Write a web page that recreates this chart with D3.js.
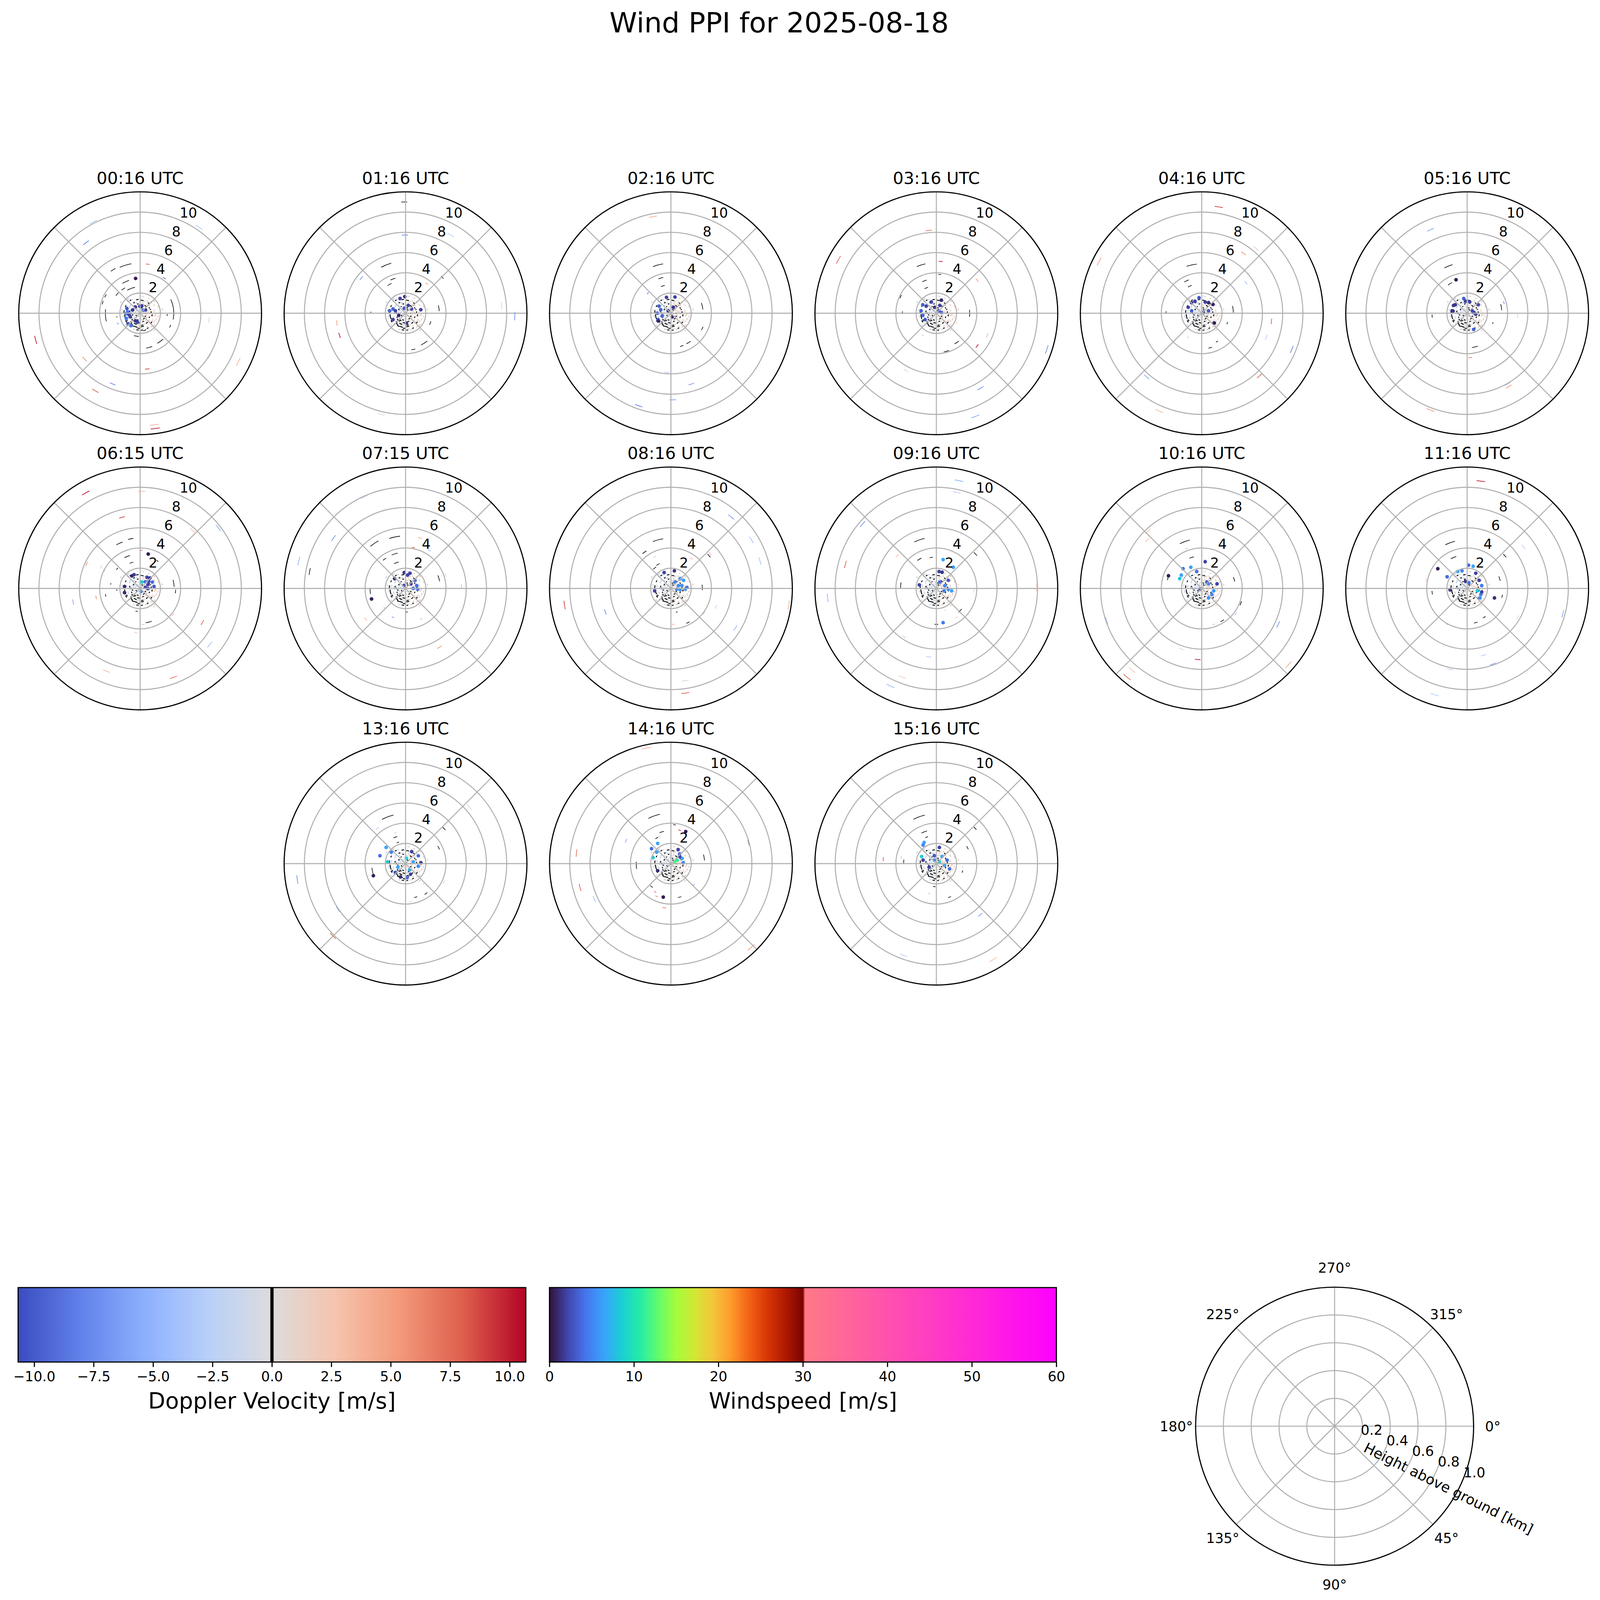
<!DOCTYPE html>
<html><head><meta charset="utf-8">
<script src="https://cdn.jsdelivr.net/npm/d3@7"></script>
<style>html,body{margin:0;padding:0;background:#fff;overflow:hidden;width:100%;height:100%}svg{display:block;width:100vw;height:100vh}text{font-family:"DejaVu Sans",sans-serif;fill:#000}</style>
</head><body><svg id="c" viewBox="0 0 7878 7907" preserveAspectRatio="xMidYMid meet"></svg>
<script>
// ---------------- DATA ----------------
const suptitle = "Wind PPI for 2025-08-18";
const panelTimes = ["00:16","01:16","02:16","03:16","04:16","05:16","06:15","07:15","08:16","09:16","10:16","11:16","13:16","14:16","15:16"];
const rTicks = [2,4,6,8,10];
const velTicks = [-10,-7.5,-5,-2.5,0,2.5,5,7.5,10];
const windTicks = [0,10,20,30,40,50,60];
const legendRTicks = [0.2,0.4,0.6,0.8,1.0];
const legendThetaTicks = [0,45,90,135,180,225,270,315];
const velLabel = "Doppler Velocity [m/s]";
const windLabel = "Windspeed [m/s]";
const legendRLabel = "Height above ground [km]";
const velMax = 10.68;
const coolwarmStops = ["#3b4cc0","#6282ea","#8db0fe","#b8d0f9","#dddcdc","#f5c4ad","#f49a7b","#de604d","#b40426"];
const turboStops = ["#30123b","#4145ab","#4675ed","#39a2fc","#1bcfd4","#24eca6","#61fc6c","#a4fc3b","#d1e834","#f3c63a","#fe9b2d","#f36315","#d93806","#b11901","#7a0402"];
const highWindStops = ["#ff7a85","#ff00ff"];

// near-range returns seen in every scan: [range km, azimuth deg, width deg, velocity]
const nearLight = [[0.4,300,20,-1],[0.7,280,15,-1.5],[0.9,250,12,-1],[1.2,300,10,-1.5],[1.0,320,12,-1],[1.3,330,10,-1.2],[0.6,220,20,-1],[1.1,230,10,-1.3],[1.5,240,8,-1],[1.4,210,10,-0.8],[0.8,200,15,-0.8],[1.7,200,8,-0.6],[1.6,300,6,-1.2],[1.8,280,6,-1],[1.2,190,10,-0.5],[2.0,350,5,-1],
[0.5,60,20,1],[0.8,40,15,1.2],[1.0,70,12,1],[1.2,50,10,1.5],[1.4,80,10,1],[1.6,60,8,1.2],[0.7,120,15,0.8],[1.0,110,12,1],[1.3,130,10,1.2],[1.6,120,8,1],[1.8,100,6,1.5],[0.9,150,12,0.6],[1.2,160,10,0.8],[1.5,150,8,1],[1.7,30,6,1],[1.9,70,5,1.2],[0.6,10,20,0.3],[1.1,15,10,0.5],[1.45,100,6,1.8],[2.1,90,4,1.5],[1.75,140,6,1.4],[0.3,100,30,0.5],[0.3,250,30,-0.5],
[0.35,20,40,0.5],[0.35,160,40,0.8],[0.35,210,40,-0.5],[0.35,330,30,-1],
[0.5,0,25,0.3],[0.5,130,30,1],[0.5,180,25,0.2],[0.5,280,30,-1.2],[0.5,330,20,-0.8],
[0.65,70,25,1.2],[0.65,100,20,1],[0.65,170,25,0.5],[0.65,250,25,-1],[0.65,300,20,-1.3],[0.65,350,20,-0.3],
[0.8,10,20,0.4],[0.8,80,20,1.3],[0.8,130,18,1],[0.8,230,20,-0.8],[0.8,300,18,-1.5],
[0.95,20,15,0.6],[0.95,90,15,1.2],[0.95,170,15,0.3],[0.95,280,15,-1.2],[0.95,215,15,-0.5],
[1.1,40,14,0.8],[1.1,130,14,1.1],[1.1,270,12,-1.3],[1.1,340,14,-1],[1.1,190,12,0],
[1.25,20,12,0.5],[1.25,100,12,1.3],[1.25,200,12,-0.2],[1.25,250,12,-1],[1.25,310,12,-1.2],
[1.4,30,10,0.8],[1.4,120,10,1.2],[1.4,180,10,0],[1.4,280,10,-1.3],[1.4,345,10,-0.8],
[1.55,45,9,1],[1.55,95,9,1.5],[1.55,170,9,0.3],[1.55,225,9,-0.6],[1.55,330,9,-1],
[1.7,10,8,0.3],[1.7,110,8,1.3],[1.7,160,8,0.8],[1.7,260,8,-1.2],
[1.85,50,7,1.2],[1.85,130,7,1.4],[1.85,230,7,-0.5],[1.85,320,7,-1.5],
[2.0,20,6,0.6],[2.0,110,6,1.6],[2.0,160,6,1],[2.0,250,6,-1.3],
[2.2,80,5,1.4],[2.2,140,5,1.2],[2.2,300,5,-1.6]];
// near-range masked returns: [range km, azimuth deg, width deg]
const nearBlack = [[1.59,296,6],[1.6,323,6],[1.38,349,10],[1.29,9,12],[0.9,36,15],[1.1,85,10],[0.99,114,8],[1.16,145,10],[1.33,170,12],[1.41,198,14],[1.36,218,10],[1.54,257,18],[1.6,276,10],[0.78,258,10],[0.79,327,8],[0.95,346,10],[0.55,18,15],[0.5,90,15],[0.66,146,15],[0.96,190,15],[0.98,220,10],[0.93,244,8],[1.67,189,8],[1.68,174,6],[1.65,153,6],[1.1,70,5],[1.19,100,8],[1.47,242,6],[1.67,315,4],
[0.7,200,15],[0.85,215,12],[1.0,230,12],[1.15,205,15],[1.25,225,10],[1.45,210,10],[1.5,185,10],[0.75,300,10],[1.05,280,8],[1.2,330,8],[0.6,120,12],[0.85,160,10],[1.05,60,8],[1.3,40,8],[1.45,130,8],[1.6,240,8],[0.45,240,20],[0.4,30,20],[1.2,170,10],[0.9,270,10]];

// per scan: dop = [east km, north km, velocity m/s]; blk = [east km, north km, width deg]; ws = [east km, north km, windspeed m/s]
const dop0016 = [[-4.62,9.03,-3.5],[5.82,8.50,-3.5],[-5.35,6.97,-8],[0.76,4.85,8],[2.39,3.47,-9],[-10.33,-2.64,10],[-5.49,-4.53,6],[0.71,-5.51,9],[-2.72,-6.99,-8],[-4.43,-7.67,8],[1.40,-11.03,4],[1.49,-11.40,10],[9.71,-4.80,4],[6.85,-4.26,1],[6.82,-0.66,1.5],[-2.2,-1.02,-8]];
const blk0016 = [[-1.45,4.75,14],[-2.67,4.3,6],[-1.43,3.12,12],[-1.67,2.4,8],[-0.9,2.45,18],[-2.27,1.89,8],[-3.43,1.72,5],[-3.7,1.05,5],[-3.43,-0.21,20],[-2.3,-0.35,3],[3.3,0.39,35],[2.67,-0.18,4],[2.97,-1.28,5],[2.0,-2.78,12],[0.9,-3.38,10],[-0.37,-2.27,12],[0.43,-1.7,10]];
const ws0016 = [[-0.45,3.44,0.5],[-1.31,0.47,3],[-1.23,0.15,4.5],[-1.4,-0.05,4.5],[-1.1,-0.15,2],[-0.97,-0.35,2],[-1.37,-0.51,4.5],[-0.75,0.32,1.5],[-0.47,0.62,1.5],[-0.03,0.69,2],[0.17,0.73,2],[0.53,0.33,1.5],[0.3,0.29,4.5],[-0.47,-0.75,1.5],[-0.27,-0.88,2],[-1.2,-1.03,3],[-0.91,-1.23,4.5]];

const dop0116 = [[-0.07,7.73,-8],[4.47,7.73,-3],[-4.37,3.48,-7],[2.12,2.92,5],[9.5,0.77,-1],[10.8,-0.28,-7],[-6.79,-0.97,5],[-6.52,-2.19,10],[-2.42,-10.0,1]];
const blk0116 = [[-0.13,11.0,3],[3.63,3.55,4],[-1.92,4.77,12],[-1.24,3.38,8],[-1.58,2.85,8],[3.3,0.5,10],[2.45,-0.97,8],[1.85,-2.96,12],[0.77,-3.58,6],[-3.43,0.07,3]];
const ws0116 = [[-0.54,1.46,2],[-0.07,1.64,1],[-1.24,0.42,3.5],[-1.58,0.24,3.5],[-1.0,0.24,2],[0.27,0.77,2],[0.6,0.42,2.5],[1.51,0.35,2],[-1.24,-0.63,2],[0.1,-0.97,1.5],[-0.13,0.49,3],[-0.67,-0.21,1]];

const dop0216 = [[-1.78,9.54,5],[-2.28,1.98,-8],[-0.44,-5.85,-3],[2.02,-7.0,-7],[-3.19,-9.15,-8],[0.17,-8.56,-6],[1.9,0.0,3]];
const blk0216 = [[-1.28,4.77,12],[-1.0,3.48,8],[-0.8,2.7,8],[3.1,-1.5,6],[3.1,0.7,12],[1.75,-2.9,8],[1.07,-3.24,6],[-1.95,0.07,4]];
const ws0216 = [[-0.44,1.57,2],[0.4,1.6,2],[-1.18,0.7,3.5],[-1.01,0.35,3.5],[-1.34,0.0,3.5],[-0.87,-0.28,3.5],[-0.27,0.24,1.5],[0.24,0.59,1.5],[-1.28,-0.63,3],[0.13,-0.35,1],[-1.21,-0.77,1]];

const dop0316 = [[-9.68,5.29,8],[-0.74,8.18,7],[0.44,5.12,10],[4.03,3.27,5],[2.02,0.35,-2],[2.02,-0.97,3],[4.03,-3.24,10],[5.04,-2.19,4],[10.92,-3.58,-7],[4.37,-7.41,-7],[3.86,-10.2,-6],[-1.34,-2.19,-3],[-3.02,-5.67,-1]];
const blk0316 = [[-1.51,4.77,10],[0.34,3.83,4],[-1.18,3.2,8],[-1.0,2.5,8],[-3.53,1.64,5],[-3.36,0.07,4],[3.3,0.0,12],[2.02,-2.9,8],[1.0,-3.76,8]];
const ws0316 = [[-0.5,1.11,2],[-1.34,0.84,3.5],[-1.0,0.7,2],[-1.51,0.24,3.5],[-1.34,-0.21,3.5],[-1.11,-0.63,3],[0.5,1.29,1],[0.34,0.77,2],[0.24,0.24,3],[-0.17,0.59,1.5],[0.5,0.07,3.5]];

const dop0416 = [[1.68,10.51,9],[5.38,6.4,2],[4.13,5.92,6],[4.37,3.03,-4],[-10.15,5.12,5],[6.89,-0.8,8],[6.38,-2.37,-3],[8.9,-3.58,-8],[5.71,-6.19,8],[-5.44,-6.3,-6],[-6.55,-7.59,3],[-4.2,-9.67,3],[-1.34,-2.37,3]];
const blk0416 = [[-1.0,4.77,12],[-1.51,3.2,8],[-1.18,2.68,8],[-3.53,0.07,4],[3.1,0.4,12],[2.52,-0.97,5],[0.84,-3.41,6],[1.5,-2.8,4]];
const ws0416 = [[-0.27,1.53,3],[-1.0,1.04,1.5],[-0.67,1.18,2],[-1.34,0.59,2],[-1.0,0.24,3.5],[0.34,1.11,2],[0.67,1.04,1],[1.11,0.87,0.7],[1.24,-0.97,0.5],[0.67,0.24,3],[0.17,0.07,2]];

const dop0516 = [[-3.63,8.25,-6],[3.63,1.04,-7],[4.99,-0.28,-1],[0.3,-4.38,7],[3.97,-7.0,-5],[4.1,-7.25,5],[-3.63,-9.57,5]];
const blk0516 = [[-1.86,4.66,10],[-1.69,2.92,8],[-3.46,-0.28,5],[3.38,0.6,10],[2.54,-0.97,4],[0.76,-3.34,10]];
const ws0516 = [[-1.1,3.31,0.5],[-0.34,1.46,3.5],[-0.17,1.18,2],[0.25,1.11,2],[-1.18,0.84,1.5],[-1.35,0.77,1.5],[-1.49,0.24,1],[-1.39,0.21,1.5],[1.1,0.84,2.5],[0.64,-1.6,3.5],[0.68,0.07,2],[0.51,0.24,2.5],[0.85,-0.1,2]];

const dop0615 = [[-5.38,9.44,10],[0.17,9.61,3],[-1.79,7.03,9],[5.17,5.74,3],[7.73,5.98,-6],[-5.29,2.42,6],[-3.84,2.15,2],[-3.53,1.76,-3],[0.09,3.77,7],[-6.62,-1.34,-6],[-4.35,-0.89,6],[3.24,-2.6,3],[6.15,-3.38,8],[6.88,-5.56,-4],[3.29,-8.79,7],[0.29,-3.56,3],[-0.43,-4.38,2],[-3.33,-8.18,4],[1.37,-1.81,2]];
const blk0615 = [[-2.05,4.46,8],[-0.94,4.9,6],[-1.28,3.16,10],[-0.85,2.55,8],[-2.27,1.94,4],[3.33,0.5,12],[3.5,-0.3,6],[1.71,2.72,4],[-2.9,0.45,3],[-3.41,-0.68,4],[-2.3,-0.16,4],[0.85,-3.33,10],[-0.34,-2.25,6]];
const ws0615 = [[0.8,3.4,0.5],[-0.6,1.36,2],[-0.82,1.24,1],[0.68,1.1,2],[0.97,1.03,1.5],[0.17,0.63,8.5],[0.51,0.66,4],[0.85,0.71,2],[1.21,0.63,4],[1.37,0.19,3],[0.77,0.37,2],[0.51,0.1,2],[0.77,-0.02,2.5],[-1.54,0.19,1],[-1.54,-0.42,1],[0.09,-0.3,5.5]];

const dop0715 = [[-4.1,9.05,-3],[-7.12,4.98,-7],[-10.55,2.71,-5],[1.44,4.98,5],[0.77,4.04,8],[2.35,3.76,-4],[3.96,1.32,1],[5.54,0.17,4],[1.55,-3.03,3],[3.36,-5.81,5],[-3.93,-3.03,3],[-2.08,-1.91,-3],[-1.24,-2.85,-6]];
const blk0715 = [[-9.48,1.67,4],[-3.09,4.45,10],[-1.08,5.08,12],[-1.08,3.41,10],[-2.08,2.89,6],[-0.91,2.54,10],[-3.5,-0.24,10],[3.3,1.0,10],[0.1,-2.33,6]];
const ws0715 = [[-3.36,-1.04,0.5],[-0.13,1.57,1.5],[0.44,1.5,2],[0.2,1.32,2],[0.94,0.8,4],[1.11,0.28,4],[0.77,0.0,4.5],[1.21,-0.07,4],[0.54,0.45,2],[-1.08,0.97,1],[-0.13,0.28,2]];

const dop0816 = [[5.95,7.06,-7],[7.96,4.8,-4],[8.8,2.71,-4],[4.44,-1.81,-3],[6.38,-3.9,-5],[3.26,-2.44,3],[3.86,3.48,3],[2.02,2.96,4],[0.24,-3.55,4],[1.41,-9.12,-1],[1.41,-10.34,8],[-10.52,-1.64,9],[-6.48,-2.33,-7],[11.66,-1.64,4],[-1.61,3.13,-2]];
const blk0816 = [[-1.28,4.8,12],[-2.62,3.58,6],[-1.28,2.37,8],[-1.61,2.02,8],[3.76,3.24,5],[3.1,0.1,10],[1.68,-3.38,5],[-1.71,-7.8,4],[0.57,-2.33,4]];
const ws0816 = [[-0.67,1.57,2],[0.34,1.74,1.5],[-1.61,-0.24,2],[0.91,0.97,5.5],[1.24,0.8,6],[0.74,0.28,5.5],[1.08,0.28,5.5],[1.41,-0.07,6],[0.57,-0.07,5],[0.91,-0.14,6],[1.58,0.1,4],[0.4,0.63,5]];

const dop0916 = [[2.25,10.65,-5],[2.02,9.5,-2],[-7.29,6.37,-7],[-9.0,2.37,8],[-10.75,-0.94,-5],[9.91,0.1,3],[-3.86,3.24,3],[-3.19,-4.77,2],[-0.77,-6.75,-3],[-4.54,-9.64,-5],[-3.36,-8.77,2],[2.02,-2.85,2],[3.7,-0.24,-1],[0.84,-2.16,2]];
const blk0916 = [[-1.68,4.8,12],[3.86,3.41,5],[-1.68,2.89,8],[-0.5,3.06,6],[-3.53,0.28,10],[2.35,-2.2,8],[0.0,-3.55,6]];
const ws0916 = [[0.67,2.85,6.5],[1.68,2.09,6.5],[0.27,1.67,2],[0.57,1.6,1.5],[1.18,0.8,3],[0.84,0.28,5],[1.18,-0.07,5.5],[1.51,-0.24,6.5],[0.77,-0.24,5],[-1.68,0.35,2],[0.67,-3.38,4.5],[0.34,0.63,4]];

const dop1016 = [[-5.38,4.8,3],[-5.31,5.67,3],[-9.41,-3.2,-6],[-7.39,-8.77,8],[-6.89,-8.07,2],[-0.4,-7.03,10],[-2.02,-5.99,-1],[7.56,-3.55,-7],[8.57,-7.55,4],[3.36,-2.51,-4],[-1.51,3.93,-2],[2.02,1.84,-1],[1.85,-1.8,2],[2.35,-2.3,2],[1.18,-3.55,2]];
const blk1016 = [[-1.68,4.63,12],[-1.0,3.06,8],[3.2,0.9,8],[3.86,-1.46,6],[2.02,-3.2,6],[-3.36,0.97,5]];
const ws1016 = [[-3.29,1.25,0.5],[0.34,2.64,2],[-1.85,1.95,4],[-1.08,2.09,6.5],[-2.18,0.97,8],[-2.02,1.32,6.5],[-0.5,1.67,4],[-0.17,-0.07,2],[0.67,0.45,5.5],[1.18,-0.24,6],[1.0,-0.59,5],[1.51,0.45,2],[0.67,-0.94,5.5],[0.5,0.63,3]];

const dop1116 = [[1.35,10.61,10],[5.58,4.1,-2],[9.46,-2.51,-6],[4.99,-2.85,-1],[2.54,-7.48,-6],[1.61,-6.61,-3],[-1.69,-8.0,-2],[-3.21,-10.51,-3],[-1.99,-3.55,3],[-4.06,0.8,2]];
const blk1116 = [[-1.69,4.52,12],[-1.35,3.06,10],[3.72,3.24,5],[3.21,0.97,8],[3.46,-0.77,5],[-3.46,-0.42,6],[1.69,-2.85,5],[0.85,-3.38,6]];
const ws1116 = [[-2.9,1.95,0.5],[2.7,-0.94,1.2],[0.14,2.3,4],[0.59,2.19,6.5],[-0.51,1.74,5],[-0.93,1.67,6.5],[-1.98,1.15,4],[1.18,0.8,2],[1.44,0.28,4.5],[1.01,-0.24,8.5],[1.27,-0.94,5.5],[1.35,-0.59,5],[0.17,0.56,4],[-0.17,0.7,1.5],[-1.69,-0.14,1.5],[1.44,-0.35,2],[0.85,1.5,2]];

const dop1316 = [[-10.7,-1.57,-7],[-6.67,-4.53,-6],[-7.17,-7.15,8],[6.31,5.58,2],[-2.78,3.49,-3],[-1.01,3.05,-1],[2.27,4.01,-3],[3.79,-1.83,-1],[1.77,-2.0,2],[0.5,-3.75,-1]];
const blk1316 = [[-1.77,4.62,14],[-1.01,2.62,8],[-0.76,2.09,6],[3.79,3.49,5],[3.28,1.57,6],[-3.28,-0.7,10],[2.02,-2.96,5],[1.01,-3.31,5]];
const ws1316 = [[-3.18,-1.19,0.5],[-2.53,0.78,4],[-1.92,1.6,6.5],[-1.41,1.13,5],[-1.77,0.17,8.5],[0.61,1.19,2],[0.1,0.52,8.5],[0.76,0.17,6.5],[1.26,0.78,4],[1.52,0.09,1.5],[1.26,-0.26,5.5],[0.5,-1.05,2],[-0.5,-1.31,1],[0.15,-1.39,4],[-0.76,-0.35,6.5],[-1.01,-0.87,3],[0.4,-0.61,7]];

const dop1416 = [[-2.42,11.42,4],[1.62,11.77,2],[0.86,3.31,9],[-4.44,2.27,-6],[-7.47,2.96,3],[-9.34,1.05,7],[-8.99,-2.35,8],[-7.57,-3.49,-4],[7.93,-8.28,5],[-1.57,-2.79,7],[-1.41,-3.23,6],[-0.66,-4.36,7],[2.27,-2.09,-6],[-1.16,2.7,-3]];
const blk1416 = [[-1.67,4.71,14],[0.35,3.84,4],[-0.91,3.14,8],[-1.41,2.53,6],[-3.43,-0.17,12],[3.28,0.61,10],[0.86,-3.31,6],[-1.92,-2.27,6],[7.68,2.09,4]];
const ws1416 = [[1.46,3.17,0.5],[-0.76,-3.31,0.5],[-1.31,2.0,6.5],[-1.92,1.48,4],[-1.41,1.13,6.5],[-1.77,0.61,8.5],[-1.31,-0.7,1],[0.71,1.39,2],[0.86,0.96,4],[0.61,0.35,11],[1.11,0.52,6.5],[1.21,0.09,5],[0.35,0.17,12],[0.86,0.7,2]];

const dop1516 = [[-5.25,0.44,8],[-3.48,0.61,-3],[4.34,-5.06,-6],[-3.23,-9.07,-2],[5.61,-9.5,3],[-0.71,-2.96,2],[2.58,-0.35,-1]];
const blk1516 = [[-1.72,4.62,14],[-1.21,3.14,10],[-0.96,2.62,6],[3.84,3.49,4],[3.08,1.57,6],[-3.23,0.17,8],[-0.2,-2.27,6],[1.31,-3.31,5],[2.58,-0.78,5]];
const ws1516 = [[-1.21,2.09,6.5],[-1.31,1.83,5],[0.3,1.6,2],[-1.46,0.7,8.5],[-1.31,0.35,2],[-0.2,0.35,5.5],[0.56,0.7,6.5],[1.06,0.35,4],[0.81,-0.17,6.5],[0.3,0.17,8.5],[1.31,-0.52,4],[-0.71,-0.35,2],[-0.2,0.78,3]];

const scans = [
 [dop0016,blk0016,ws0016],[dop0116,blk0116,ws0116],[dop0216,blk0216,ws0216],[dop0316,blk0316,ws0316],
 [dop0416,blk0416,ws0416],[dop0516,blk0516,ws0516],[dop0615,blk0615,ws0615],[dop0715,blk0715,ws0715],
 [dop0816,blk0816,ws0816],[dop0916,blk0916,ws0916],[dop1016,blk1016,ws1016],[dop1116,blk1116,ws1116],
 [dop1316,blk1316,ws1316],[dop1416,blk1416,ws1416],[dop1516,blk1516,ws1516]];

// ---------------- DRAWING ----------------
const svg = d3.select("#c");
const DEG = Math.PI/180;
const colX = d3.scaleLinear().domain([0,5]).range([678,7236]);
const rowY = d3.scaleLinear().domain([0,2]).range([1548,4268]);
const rS = d3.scaleLinear().domain([0,12]).range([0,600]);
const GRID = "#b0b0b0";

const velInterp = d3.piecewise(d3.interpolateRgb, coolwarmStops);
const velNorm = d3.scaleLinear().domain([-velMax, velMax]).range([0,1]).clamp(true);
const velColor = v => velInterp(velNorm(v));
const turboInterp = d3.piecewise(d3.interpolateRgb, turboStops);
const highInterp = d3.interpolateRgb(highWindStops[0], highWindStops[1]);
const windColor = w => w <= 30 ? turboInterp(w/30) : highInterp((w-30)/30);

function arcD(R, az, w){
  const p = d3.path();
  p.arc(0, 0, R, (az-90-w/2)*DEG, (az-90+w/2)*DEG);
  return p.toString();
}
const polar = (e,n) => [Math.hypot(e,n), Math.atan2(e,n)/DEG];

function drawPanel(i){
  const slot = i < 12 ? i : i + 1;
  const cx = colX(slot % 6), cy = rowY(Math.floor(slot/6));
  const [dop, blk, ws] = scans[i];
  const g = svg.append("g").attr("transform", `translate(${cx},${cy})`);
  g.append("g").selectAll("path").data(nearLight).join("path")
    .attr("d", d => arcD(rS(d[0]), d[1], d[2])).attr("fill","none")
    .attr("stroke", d => velColor(d[3])).attr("stroke-width", 5.5);
  g.append("g").selectAll("path").data(dop).join("path")
    .attr("d", d => { const [r,az] = polar(d[0],d[1]); return arcD(rS(r), az, 4.5); })
    .attr("fill","none").attr("stroke", d => velColor(d[2])).attr("stroke-width", 3.5);
  g.append("g").selectAll("path").data(nearBlack).join("path")
    .attr("d", d => arcD(rS(d[0]), d[1], d[2])).attr("fill","none")
    .attr("stroke","#000").attr("stroke-width", 4.5);
  g.append("g").selectAll("path").data(blk).join("path")
    .attr("d", d => { const [r,az] = polar(d[0],d[1]); return arcD(rS(r), az, d[2]); })
    .attr("fill","none").attr("stroke","#000").attr("stroke-width", 3);
  g.append("g").selectAll("circle").data(ws).join("circle")
    .attr("cx", d => { const [r,az] = polar(d[0],d[1]); return rS(r)*Math.cos((az-90)*DEG); })
    .attr("cy", d => { const [r,az] = polar(d[0],d[1]); return rS(r)*Math.sin((az-90)*DEG); })
    .attr("r", 9).attr("fill", d => windColor(d[2]));
  g.append("g").selectAll("circle").data(rTicks).join("circle")
    .attr("r", d => rS(d)).attr("fill","none").attr("stroke",GRID).attr("stroke-width",5);
  g.append("g").selectAll("line").data(d3.range(0,360,45)).join("line")
    .attr("x1",0).attr("y1",0)
    .attr("x2", d => rS(12)*Math.cos((d-90)*DEG)).attr("y2", d => rS(12)*Math.sin((d-90)*DEG))
    .attr("stroke",GRID).attr("stroke-width",5);
  g.append("circle").attr("r", rS(12)).attr("fill","none").attr("stroke","#000").attr("stroke-width",5.6);
  g.append("g").selectAll("text").data(rTicks).join("text")
    .attr("x", d => rS(d)*Math.cos((22.5-90)*DEG) + 4)
    .attr("y", d => rS(d)*Math.sin((22.5-90)*DEG) - 35)
    .attr("dominant-baseline","central").attr("font-size",68).text(d => d);
  g.append("text").attr("x",0).attr("y",-639).attr("text-anchor","middle")
    .attr("font-size",83).text(panelTimes[i] + " UTC");
}
scans.forEach((s,i) => drawPanel(i));

svg.append("text").attr("x",3836).attr("y",160).attr("text-anchor","middle")
  .attr("font-size",138).text(suptitle);

// ---------------- COLORBARS ----------------
const defs = svg.append("defs");
function colorbar(id, x0, x1, domain, colorFn, ticks, fmt, label, zeroLine){
  const y0 = 6363, y1 = 6731;
  const grad = defs.append("linearGradient").attr("id", id).attr("x1","0%").attr("x2","100%").attr("y1","0%").attr("y2","0%");
  const N = 240;
  d3.range(N+1).forEach(k => {
    const v = domain[0] + (domain[1]-domain[0])*k/N;
    grad.append("stop").attr("offset", (k/N*100)+"%").attr("stop-color", colorFn(v));
  });
  const xs = d3.scaleLinear().domain(domain).range([x0,x1]);
  const g = svg.append("g");
  g.append("rect").attr("x",x0).attr("y",y0).attr("width",x1-x0).attr("height",y1-y0).attr("fill",`url(#${id})`);
  if (zeroLine) g.append("line").attr("x1",xs(0)).attr("x2",xs(0)).attr("y1",y0).attr("y2",y1).attr("stroke","#000").attr("stroke-width",16);
  g.append("rect").attr("x",x0).attr("y",y0).attr("width",x1-x0).attr("height",y1-y0).attr("fill","none").attr("stroke","#000").attr("stroke-width",5.6);
  const axis = d3.axisBottom(xs).tickValues(ticks).tickFormat(fmt).tickSize(24.5).tickPadding(22);
  const ag = g.append("g").attr("transform",`translate(0,${y1})`).call(axis);
  ag.select(".domain").remove();
  ag.selectAll(".tick line").attr("stroke","#000").attr("stroke-width",5.6);
  ag.selectAll(".tick text").attr("font-size",68).attr("font-family","DejaVu Sans").attr("fill","#000");
  g.append("text").attr("x",(x0+x1)/2).attr("y",6962).attr("text-anchor","middle").attr("font-size",110).text(label);
}
const minusFmt = d => d3.format(".1f")(d).replace("-","\u2212");
colorbar("velg", 75, 2584, [-velMax, velMax], velColor, velTicks, minusFmt, velLabel, true);
colorbar("windg", 2701, 5206, [0,60], windColor, windTicks, d3.format("d"), windLabel, false);

// ---------------- LEGEND POLAR ----------------
const lcx = 6581, lcy = 7048;
const lS = d3.scaleLinear().domain([0,1]).range([0,687]);
const lg = svg.append("g").attr("transform",`translate(${lcx},${lcy})`);
lg.append("g").selectAll("circle").data(legendRTicks.slice(0,4)).join("circle")
  .attr("r", d => lS(d)).attr("fill","none").attr("stroke",GRID).attr("stroke-width",5);
lg.append("g").selectAll("line").data(legendThetaTicks).join("line")
  .attr("x1",0).attr("y1",0)
  .attr("x2", d => lS(1)*Math.cos(d*DEG)).attr("y2", d => lS(1)*Math.sin(d*DEG))
  .attr("stroke",GRID).attr("stroke-width",5);
lg.append("circle").attr("r", lS(1)).attr("fill","none").attr("stroke","#000").attr("stroke-width",5.6);
lg.append("g").selectAll("text").data(legendThetaTicks).join("text")
  .attr("x", d => (lS(1)+95)*Math.cos(d*DEG)).attr("y", d => (lS(1)+95)*Math.sin(d*DEG))
  .attr("text-anchor","middle").attr("dominant-baseline","central").attr("font-size",68).text(d => d + "\u00b0");
lg.append("g").selectAll("text").data(legendRTicks).join("text")
  .attr("x", d => lS(d)*Math.cos(22.5*DEG) + 2).attr("y", d => lS(d)*Math.sin(22.5*DEG) - 35)
  .attr("dominant-baseline","central").attr("font-size",68).text(d => d3.format(".1f")(d));
svg.append("text").attr("transform","translate(7144,7356) rotate(26.5)")
  .attr("text-anchor","middle").attr("dominant-baseline","central").attr("font-size",70).text(legendRLabel);
</script></body></html>
